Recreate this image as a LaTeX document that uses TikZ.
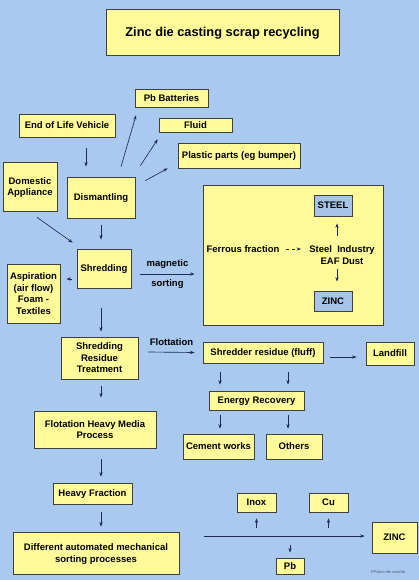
\documentclass[tikz,border=0pt]{standalone}
\usepackage{fontspec}
\setmainfont{Liberation Sans}
\usetikzlibrary{arrows.meta, positioning}
\definecolor{bgblue}{HTML}{A9C9EE}
\definecolor{boxyellow}{HTML}{FFFA9A}
\definecolor{innerblue}{HTML}{A6C4E6}
\definecolor{arrowblue}{HTML}{1C2B55}

\begin{document}
\begin{tikzpicture}[x=1pt, y=-1pt, >={Stealth[length=4.5pt,width=3.2pt]},
      box/.style={draw=black!75, line width=0.7pt, fill=boxyellow, inner sep=0pt, text depth=0pt,
        align=center, font=\bfseries\fontsize{9.5}{11.5}\selectfont},
      label/.style={inner sep=0pt, align=center, font=\bfseries\fontsize{9.5}{11.5}\selectfont},
      arr/.style={->, draw=arrowblue, line width=0.65pt}]
      % background and margins
      \fill[bgblue] (0,0) rectangle (419,580);
      \node[box, minimum width=233pt, minimum height=46pt, font=\bfseries\fontsize{12.8}{15}\selectfont]
        (title) at (222.5,32) {Zinc die casting scrap recycling};
      % left column
      \node[box, minimum width=96pt, minimum height=23pt] (elv) at (67,125.5) {End of Life Vehicle};
      \node[box, minimum width=54pt, minimum height=49pt] (dom) at (30,186.5) {Domestic\\Appliance};
      \node[box, minimum width=68pt, minimum height=41pt] (dis) at (101,197.5) {Dismantling};
      \node[box, minimum width=54pt, minimum height=39pt] (shred) at (104,268.5) {Shredding};
      \node[box, minimum width=53pt, minimum height=59pt] (asp) at (33.5,293.5) {Aspiration\\(air flow)\\Foam -\\Textiles};
      \node[box, minimum width=77pt, minimum height=42pt] (srt) at (99.5,358) {Shredding\\Residue\\Treatment};
      \node[box, minimum width=122pt, minimum height=37pt] (fhmp) at (95,429.5) {Flotation Heavy Media\\Process};
      \node[box, minimum width=79pt, minimum height=21pt] (heavy) at (92.5,493.5) {Heavy Fraction};
      \node[box, minimum width=166pt, minimum height=42pt] (sorting) at (96,553) {Different automated mechanical\\sorting processes};
      % dismantling outputs
      \node[box, minimum width=73pt, minimum height=18pt] (pb_bat) at (171.5,98) {Pb Batteries};
      \node[box, minimum width=73pt, minimum height=14pt] (fluid) at (195.5,125) {Fluid};
      \node[box, minimum width=122pt, minimum height=25pt] (plastic) at (239,155.5) {Plastic parts (eg bumper)};
      % ferrous fraction
      \node[box, minimum width=180pt, minimum height=140pt] (ferrous) at (293,255) {};
      \node[box, fill=innerblue, minimum width=38pt, minimum height=21pt] (steel) at (333,205.5) {STEEL};
      \node[box, fill=innerblue, minimum width=38pt, minimum height=20pt] (zinc_eaf) at (333,301) {ZINC};
      \node[label] (ferr) at (243,249) {Ferrous fraction};
      \node[label] (ind) at (342,255) {Steel\ \ Industry\\EAF Dust};
      % residue
      \node[box, minimum width=120pt, minimum height=21pt] (fluff) at (263,352.5) {Shredder residue (fluff)};
      \node[box, minimum width=48pt, minimum height=23pt] (landfill) at (390,353.5) {Landfill};
      \node[box, minimum width=95pt, minimum height=19pt] (energy) at (256.5,400.5) {Energy Recovery};
      \node[box, minimum width=71pt, minimum height=25pt] (cement) at (218.5,446.5) {Cement works};
      \node[box, minimum width=56pt, minimum height=25pt] (others) at (294,446.5) {Others};
      % sorting outputs
      \node[box, minimum width=39pt, minimum height=19pt] (inox) at (256.5,502.5) {Inox};
      \node[box, minimum width=39pt, minimum height=19pt] (cu) at (328.5,502.5) {Cu};
      \node[box, minimum width=28pt, minimum height=16pt] (pb) at (290,566) {Pb};
      \node[box, minimum width=45pt, minimum height=31pt] (zinc) at (394.5,537.5) {ZINC};
      \coordinate (s_0) at (204,536);
      \node[inner sep=0pt, text=arrowblue!80, font=\itshape\fontsize{4}{5}\selectfont] (ref) at (388,572) {PP/zinc die cast/ab};

      % connectors
      \draw[arr] ([xshift=19pt,yshift=-11pt]elv.south) -- ([xshift=-15pt,yshift=10pt]dis.north);
      \draw[arr] ([xshift=20pt,yshift=10pt]dis.north) -- ([xshift=-35.5pt,yshift=-8pt]pb_bat.south);
      \draw[arr] ([xshift=5pt,yshift=11pt]dis.north east) -- ([xshift=-1pt,yshift=-7pt]fluid.south west);
      \draw[arr] ([xshift=10pt,yshift=-4pt]dis.north east) -- ([xshift=-10pt]plastic.south west);
      \draw[arr] ([xshift=7pt,yshift=-6pt]dom.south) -- ([xshift=-4pt,yshift=6pt]shred.north west);
      \draw[arr] ([yshift=-7pt]dis.south) -- ([xshift=-3pt,yshift=9pt]shred.north);
      \draw[arr] ([xshift=-5pt,yshift=-10.5pt]shred.west) -- ([xshift=6pt,yshift=14.5pt]asp.east);
      \draw[arr] ([xshift=9pt,yshift=-5.5pt]shred.east) -- node[label, above=5pt] {magnetic}
        node[label, below=5pt] {sorting} ([xshift=-8pt,yshift=-19pt]ferrous.west);
      \draw[arr, dashed] ([xshift=6pt]ferr.east) -- ([xshift=-8pt]ind.west |- ferr.east);
      \draw[arr] ([xshift=-5pt,yshift=10pt]ind.north) -- ([xshift=4pt,yshift=-7pt]steel.south);
      \draw[arr] ([xshift=-5pt,yshift=-5pt]ind.south) -- ([xshift=4pt,yshift=9pt]zinc_eaf.north);
      \draw[arr] ([xshift=-3pt,yshift=-20pt]shred.south) -- ([xshift=1.5pt,yshift=5pt]srt.north);
      \draw[arr] ([xshift=10pt,yshift=6pt]srt.east) -- node[label, above=6pt] {Flottation} ([xshift=-8pt]fluff.west);
      \draw[arr] ([xshift=7pt,yshift=-4.5pt]fluff.east) -- ([xshift=-9pt,yshift=-3.5pt]landfill.west);
      \draw[arr] ([xshift=-43pt,yshift=-9pt]fluff.south) -- ([xshift=-36.5pt,yshift=6pt]energy.north);
      \draw[arr] ([xshift=25pt,yshift=-9pt]fluff.south) -- ([xshift=31.5pt,yshift=6pt]energy.north);
      \draw[arr] ([xshift=-36.5pt,yshift=-5pt]energy.south) -- ([xshift=1.5pt,yshift=5pt]cement.north);
      \draw[arr] ([xshift=31.5pt,yshift=-5pt]energy.south) -- ([xshift=-6pt,yshift=5pt]others.north);
      \draw[arr] ([xshift=1.5pt,yshift=-7pt]srt.south) -- ([xshift=6pt,yshift=13pt]fhmp.north);
      \draw[arr] ([xshift=6pt,yshift=-11pt]fhmp.south) -- ([xshift=8.5pt,yshift=6pt]heavy.north);
      \draw[arr] ([xshift=8.5pt,yshift=-8pt]heavy.south) -- ([xshift=5pt,yshift=5pt]sorting.north);
      \draw[arr] (s_0) -- ([xshift=-7pt,yshift=1.5pt]zinc.west);
      \draw[arr, shorten <=8pt, shorten >=6pt] (inox |- s_0) -- (inox.south);
      \draw[arr, shorten <=8pt, shorten >=6pt] (cu |- s_0) -- (cu.south);
      \draw[arr, shorten <=9pt, shorten >=5pt] (pb |- s_0) -- (pb.north);
\end{tikzpicture}
\end{document}
